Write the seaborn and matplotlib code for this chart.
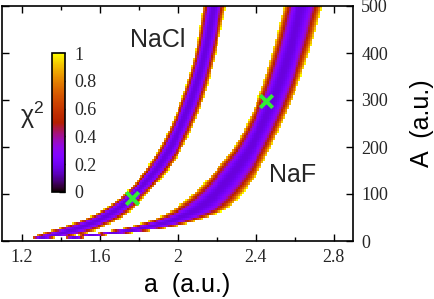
import numpy as np
import matplotlib
matplotlib.use("Agg")
import matplotlib.pyplot as plt
from matplotlib.ticker import MultipleLocator, FormatStrFormatter
import seaborn as sns

# chi^2 < 1 valleys: for each A, the a-range where chi^2 <= 1
A_levels = [5, 9, 17, 30, 50, 70, 100, 150, 200, 300, 400, 500]
nacl_left = [1.25, 1.26, 1.305, 1.41, 1.54, 1.633, 1.726, 1.833, 1.91, 2.018, 2.09, 2.131]
nacl_right = [1.274, 1.413, 1.536, 1.618, 1.715, 1.777, 1.844, 1.951, 2.028, 2.131, 2.197, 2.249]
naf_left = [1.413, 1.438, 1.582, 1.746, 1.90, 1.987, 2.079, 2.192, 2.29, 2.408, 2.485, 2.546]
naf_right = [1.479, 1.551, 1.756, 1.972, 2.146, 2.259, 2.331, 2.418, 2.479, 2.587, 2.674, 2.741]
chi2_min = 0.17

# best-fit points (green crosses)
best_a = [1.767, 2.454]
best_A = [92, 298]

cbar_ticks = [0, 0.2, 0.4, 0.6, 0.8, 1]

a_grid = np.arange(1.105, 2.9, 0.01)
A_grid = np.arange(2.5, 500, 5)


def pchip(x, xp, yp):
    """monotone cubic through the read points, nan below the first one"""
    xp, yp = np.asarray(xp, float), np.asarray(yp, float)
    h = np.diff(xp)
    d = np.diff(yp) / h
    m = np.zeros_like(yp)
    for k in range(1, len(xp) - 1):
        if d[k - 1] * d[k] > 0:
            w1, w2 = 2 * h[k] + h[k - 1], h[k] + 2 * h[k - 1]
            m[k] = (w1 + w2) / (w1 / d[k - 1] + w2 / d[k])
    m[0], m[-1] = d[0], d[-1]
    i = np.clip(np.searchsorted(xp, x) - 1, 0, len(h) - 1)
    s = (x - xp[i]) / h[i]
    y = ((2 * s**3 - 3 * s**2 + 1) * yp[i] + (s**3 - 2 * s**2 + s) * h[i] * m[i]
         + (-2 * s**3 + 3 * s**2) * yp[i + 1] + (s**3 - s**2) * h[i] * m[i + 1])
    return np.where(x < xp[0], np.nan, y)


def valley(left, right, skew=0.45, power=2.5):
    lo = pchip(A_grid, A_levels, left)[:, None]
    hi = pchip(A_grid, A_levels, right)[:, None]
    mid = lo + skew * (hi - lo)
    aa = a_grid[None, :]
    t = np.where(aa < mid, (aa - mid) / (mid - lo), (aa - mid) / (hi - mid))
    return chi2_min + (1 - chi2_min) * np.abs(t) ** power


chi2 = np.fmin(valley(nacl_left, nacl_right), valley(naf_left, naf_right))
chi2 = np.ma.masked_where(~(chi2 <= 1), chi2)

sns.set_theme(style="ticks")
plt.rcParams["font.family"] = ["Liberation Sans", "DejaVu Sans"]
plt.rcParams["mathtext.fontset"] = "custom"
plt.rcParams["mathtext.rm"] = "Liberation Sans"
plt.rcParams["axes.linewidth"] = 1.2

fig = plt.figure(figsize=(4.35, 2.99), dpi=100)
ax = fig.add_axes([2 / 435, 58 / 299, 351 / 435, 235 / 299])

mesh = ax.pcolormesh(a_grid, A_grid, chi2, cmap="gnuplot", vmin=0, vmax=1,
                     shading="nearest")
sns.scatterplot(x=best_a, y=best_A, marker="x", s=80, linewidth=2.8,
                color="#33ee33", ax=ax, zorder=3, legend=False)

ax.set_xlim(1.1, 2.9)
ax.set_ylim(0, 500)
ax.xaxis.set_major_locator(MultipleLocator(0.4))
ax.xaxis.set_minor_locator(MultipleLocator(0.2))
ax.xaxis.set_major_formatter(FormatStrFormatter("%g"))
ax.yaxis.set_major_locator(MultipleLocator(100))
ax.yaxis.tick_right()
ax.tick_params(which="both", direction="in", top=True, bottom=True,
               left=True, right=True, labelleft=False, labelright=True,
               labelsize=13, labelfontfamily="Liberation Serif",
               color="black", width=1.0)
ax.tick_params(which="major", length=5, pad=6)
ax.tick_params(which="minor", length=3)
for s in ax.spines.values():
    s.set_color("black")

ax.set_xlabel("a  (a.u.)", fontsize=18, color="black")
ax.xaxis.set_label_coords(0.528, -0.187)
ax.xaxis.label.set_verticalalignment("center")
ax.yaxis.set_label_position("right")
ax.set_ylabel("A  (a.u.)", fontsize=18, color="black")
ax.yaxis.set_label_coords(1.197, 0.5)
ax.yaxis.label.set_verticalalignment("center")

ax.text(1.90, 413, "NaCl", fontsize=18, ha="center", va="baseline")
ax.text(2.59, 125, "NaF", fontsize=18, ha="center", va="baseline")

cax = fig.add_axes([52 / 435, 107 / 299, 13 / 435, 139 / 299])
cb = fig.colorbar(mesh, cax=cax, ticks=cbar_ticks)
cb.outline.set_linewidth(1.2)
cb.outline.set_edgecolor("black")
cax.yaxis.set_major_formatter(FormatStrFormatter("%g"))
cax.tick_params(direction="in", length=4, width=1.0, color="black", pad=7,
                labelsize=13, labelfontfamily="Liberation Serif")
fig.text(20 / 435, 1 - 124 / 299, "χ$^2$", fontsize=18, ha="left", va="baseline")

fig.savefig("out.png", dpi=100)
